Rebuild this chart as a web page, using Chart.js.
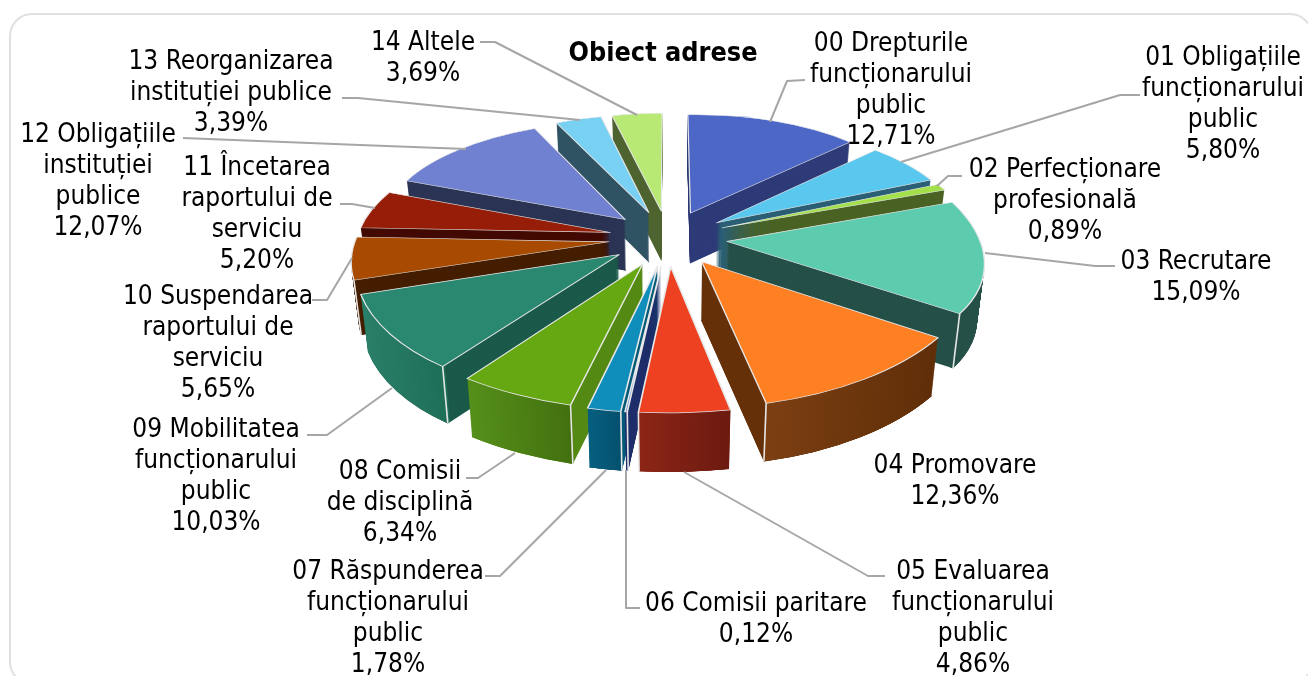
<!DOCTYPE html>
<html><head><meta charset="utf-8">
<style>html,body{margin:0;padding:0;background:#fff;overflow:hidden}canvas{display:block}</style>
<script src="https://cdn.jsdelivr.net/npm/chart.js@4"></script></head>
<body><canvas id="c" width="1308" height="676"></canvas>
<script>
const categories=["00 Drepturile funcționarului public","01 Obligațiile funcționarului public","02 Perfecționare profesională","03 Recrutare","04 Promovare","05 Evaluarea funcționarului public","06 Comisii paritare","07 Răspunderea funcționarului public","08 Comisii de disciplină","09 Mobilitatea funcționarului public","10 Suspendarea raportului de serviciu","11 Încetarea raportului de serviciu","12 Obligațiile instituției publice","13 Reorganizarea instituției publice","14 Altele"];
const values=[12.71,5.80,0.89,15.09,12.36,4.86,0.12,1.78,6.34,10.03,5.65,5.20,12.07,3.39,3.69];
const topColors=["#4D67C6","#5AC8EE","#A3E04A","#5CCBAE","#FF8022","#EE4122","#4472C4","#0F8DBB","#65A812","#2A8870","#A84B00","#961D08","#6F81D0","#78D0F2","#B7E974"];
const wallColors=["#2E3B78","#2B5F75","#4A6324","#255048","#663109","#7C1F12","#1F2F6B","#055A7A","#548A14","#1B5A4A","#451E00","#420A02","#2B3454","#305364","#4E6430"];
const rimFrom=["#2E3B78","#2B5F75","#4A6324","#255048","#7C3F12","#8C2516","#1F2F6B","#065F80","#55901A","#2A7F68","#451E00","#420A02","#2B3454","#305364","#4E6430"];
const rimTo=["#2E3B78","#2B5F75","#4A6324","#255048","#5F2E08","#6C1A10","#1F2F6B","#05506E","#43700F","#1F6F58","#451E00","#420A02","#2B3454","#305364","#4E6430"];
const labelLines=[["00 Drepturile","funcționarului","public"],["01 Obligațiile","funcționarului","public"],["02 Perfecționare","profesională"],["03 Recrutare"],["04 Promovare"],["05 Evaluarea","funcționarului","public"],["06 Comisii paritare"],["07 Răspunderea","funcționarului","public"],["08 Comisii","de disciplină"],["09 Mobilitatea","funcționarului","public"],["10 Suspendarea","raportului de","serviciu"],["11 Încetarea","raportului de","serviciu"],["12 Obligațiile","instituției","publice"],["13 Reorganizarea","instituției publice"],["14 Altele"]];
const labelCenters=[[891,44],[1223,58],[1065,170],[1196,262],[955,466],[973,572],[756,604],[388,572],[400,472],[216,430],[218,297],[257,168],[98,135],[231,62],[423,43]];
const leaders=[[[805,80],[787,81],[770,122]],[[1140,95],[1120,95],[901,162]],[[962,176],[948,176],[937,186]],[[1115,266],[1095,266],[985,253]],null,[[885,576],[868,576],[684,472]],[[640,608],[626,608],[626,470]],[[485,576],[500,576],[606,470]],[[466,478],[478,478],[515,453]],[[307,435],[327,435],[392,388]],[[312,300],[327,300],[352,258]],[[340,204],[352,204],[375,208]],[[183,138],[360,145],[466,149]],[[342,98],[358,98],[580,120]],[[480,42],[495,42],[637,115]]];
const FONT='"DejaVu Sans Condensed","DejaVu Sans",sans-serif';
// projection of the tilted, exploded pie
const view={cx:668,cy:238,rx:253,ry:118,persp:0.136,explode:0.235,depth:54,shrink:0.023};
function project(X,Y){const w=1+view.persp*Y;return [view.cx+view.rx*X/w,view.cy-view.ry*Y/w,1/w];}
function sliceFrame(el){
  const a1=el.startAngle+Math.PI/2,a2=el.endAngle+Math.PI/2,m=(a1+a2)/2;
  const ex=view.explode*Math.sin(m),ey=view.explode*Math.cos(m);
  const A=project(ex,ey),P1=project(ex+Math.sin(a1),ey+Math.cos(a1)),P2=project(ex+Math.sin(a2),ey+Math.cos(a2));
  const M=project(ex+Math.sin(m),ey+Math.cos(m));
  const s1=Math.sin(a1),c1=-Math.cos(a1),s2=Math.sin(a2),c2=-Math.cos(a2),det=s1*c2-c1*s2;
  const d1=[P1[0]-A[0],P1[1]-A[1]],d2=[P2[0]-A[0],P2[1]-A[1]];
  const R=el.outerRadius;
  const U=[(d1[0]*c2-c1*d2[0])/det,(d1[1]*c2-c1*d2[1])/det];
  const V=[(s1*d2[0]-s2*d1[0])/det,(s1*d2[1]-s2*d1[1])/det];
  return {A,P1,P2,U,V,R,m,a1,a2,d:view.depth*Math.sqrt(M[2])};
}
function applyFrame(ctx,f,el){
  ctx.transform(f.U[0]/f.R,f.U[1]/f.R,f.V[0]/f.R,f.V[1]/f.R,f.A[0],f.A[1]);
  ctx.translate(-el.x,-el.y);
}
function paintArc(ctx,el,fill,border,bw,inner){
  const options={backgroundColor:fill,borderColor:border,borderWidth:bw,borderAlign:'center',borderJoinStyle:'round',borderRadius:0,borderDash:[],borderDashOffset:0,offset:0,spacing:0,circular:true};
  const proxy=Object.create(el,{options:{value:options},innerRadius:{value:inner||0,writable:true}});
  Chart.ArcElement.prototype.draw.call(proxy,ctx);
}
function wallStep(ctx,t,depth){
  ctx.setTransform(1,0,0,1,0,0);
  ctx.translate(view.cx,depth*t);
  ctx.scale(1-view.shrink*t,1);
  ctx.translate(-view.cx,0);
}
const pie3d={id:'pie3d',
  beforeDraw(chart){
    const c=chart.ctx;c.save();c.fillStyle='#fff';c.fillRect(0,0,1308,676);
    c.strokeStyle='#E0E0E0';c.lineWidth=2;c.beginPath();c.roundRect(10,14,1302,670,22);c.stroke();c.restore();
  },
  beforeDatasetDraw(chart,args){
    const ctx=chart.ctx,els=args.meta.data.map((el,i)=>({el,i,f:sliceFrame(el)}));
    els.sort((p,q)=>Math.cos(q.f.m)-Math.cos(p.f.m));
    for(const {el,i,f} of els){
      const d=f.d;
      for(let s=Math.ceil(d);s>=1;s--){
        const t=Math.min(s/d,1);
        ctx.save();wallStep(ctx,t,d);applyFrame(ctx,f,el);
        paintArc(ctx,el,wallColors[i],wallColors[i],0,0);ctx.restore();
      }
      for(let s=Math.ceil(d);s>=1;s--){
        const t=Math.min(s/d,1);
        ctx.save();wallStep(ctx,t,d);applyFrame(ctx,f,el);
        const g=ctx.createLinearGradient(el.x+f.R*Math.min(Math.sin(f.a1),Math.sin(f.a2)),0,el.x+f.R*Math.max(Math.sin(f.a1),Math.sin(f.a2)),0);
        g.addColorStop(0,rimFrom[i]);g.addColorStop(1,rimTo[i]);
        paintArc(ctx,el,g,g,0,f.R*0.985);ctx.restore();
      }
      if(Math.cos(f.m)<0){
        const P=Math.sin(f.m)>0?f.P2:f.P1;
        ctx.save();ctx.strokeStyle='#E6E6E6';ctx.lineWidth=1.6;ctx.beginPath();ctx.moveTo(P[0],P[1]);
        ctx.lineTo(view.cx+(P[0]-view.cx)*(1-view.shrink),P[1]+d);ctx.stroke();ctx.restore();
      }
      ctx.save();applyFrame(ctx,f,el);paintArc(ctx,el,topColors[i],'#E8E8E8',1.6,0);ctx.restore();
    }
    return false;
  },
  afterDraw(chart){
    const c=chart.ctx;c.save();
    c.strokeStyle='#A6A6A6';c.lineWidth=2;c.lineJoin='round';
    leaders.forEach(l=>{if(!l)return;c.beginPath();l.forEach((p,j)=>j?c.lineTo(p[0],p[1]):c.moveTo(p[0],p[1]));c.stroke();});
    c.fillStyle='#000';c.textAlign='center';c.textBaseline='middle';c.font='26px '+FONT;
    categories.forEach((_,i)=>{
      const lines=labelLines[i].concat([values[i].toFixed(2).replace('.',',')+'%']);
      lines.forEach((t,j)=>c.fillText(t,labelCenters[i][0],labelCenters[i][1]+j*31));
    });
    c.restore();
  }
};
new Chart(document.getElementById('c'),{type:'pie',
  data:{labels:categories,datasets:[{data:values,backgroundColor:topColors,borderColor:'#E8E8E8',borderWidth:1}]},
  options:{responsive:false,animation:false,layout:{padding:{left:18}},
    plugins:{legend:{display:false},tooltip:{enabled:false},
      title:{display:true,text:'Obiect adrese',color:'#000',font:{family:FONT,size:26.8,weight:'bold'},padding:{top:38,bottom:10}}}},
  plugins:[pie3d]});
</script></body></html>
